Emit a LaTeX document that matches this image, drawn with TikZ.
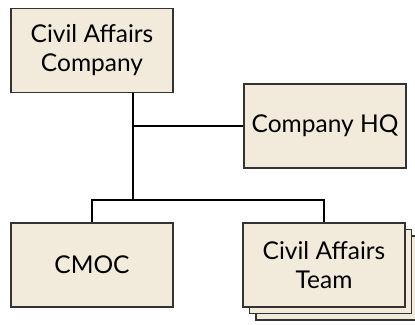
\documentclass[tikz,border=0pt]{standalone}
\usepackage{fontspec}
\setmainfont{Lato}
\usepackage{tikz}
\usetikzlibrary{positioning,calc}
\definecolor{Paper}{HTML}{F2EADB}
\definecolor{Edge}{HTML}{333333}
\tikzset{unitbox/.style={draw=Edge,line width=1.6pt,fill=Paper,minimum width=162pt,minimum height=84pt,inner sep=0pt,align=center,font=\fontsize{24.5}{29}\selectfont},
  link/.style={line width=2.4pt,black}}
\begin{document}
\begin{tikzpicture}[x=1pt,y=-1pt]
\useasboundingbox (0,0) rectangle (415,324);
\node[unitbox] (ca) at (92,50.5) {Civil Affairs\\Company};
\node[unitbox] (hq) at (325,126) {Company HQ};
\node[unitbox] (cmoc) at (92,265) {CMOC};
% stacked teams
\node[unitbox] (team3) at (337,278) {};
\node[unitbox] (team2) at (330.5,271.5) {};
\node[unitbox] (team) at (324,265) {Civil Affairs\\Team};
\coordinate (split) at (133,200);
\draw[link] (ca.south -| split) -- (split);
\draw[link] (split |- hq.west) -- (hq.west);
\draw[link] (cmoc.north) |- (split) -| (team.north);
\end{tikzpicture}
\end{document}
